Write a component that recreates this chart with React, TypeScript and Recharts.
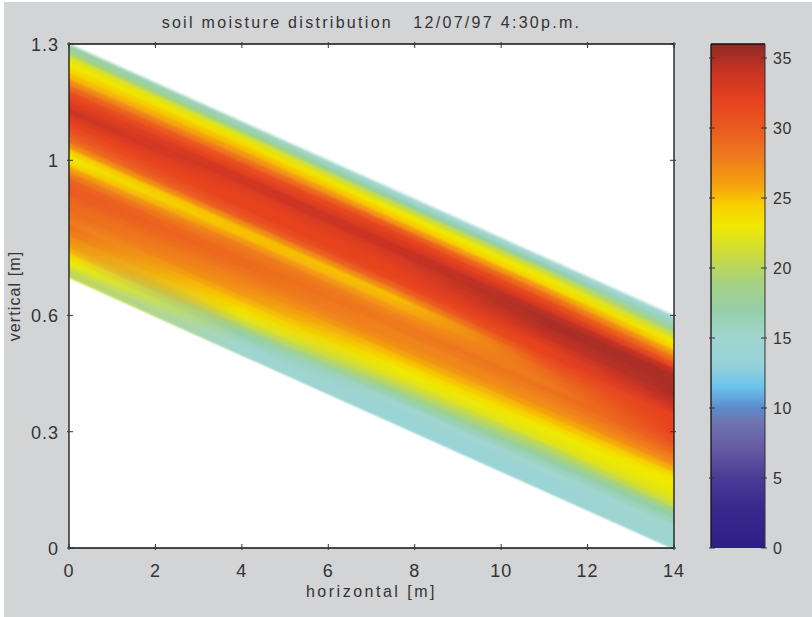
// App.tsx - soil moisture distribution, drawn as stacked colour layers
import { Area, AreaChart, Bar, ComposedChart, Scatter, XAxis, YAxis } from "recharts";

const horizontal = [0, 2, 4, 6, 8, 10, 12, 14];
const upperEdge = [1.3, 1.2, 1.1, 1.0, 0.9, 0.8, 0.7, 0.6];
const lowerEdge = [0.7, 0.6, 0.5, 0.4, 0.3, 0.2, 0.1, 0.0];

const xTicks = [0, 2, 4, 6, 8, 10, 12, 14];
const yTicks = [0, 0.3, 0.6, 1, 1.3];
const barTicks = [0, 5, 10, 15, 20, 25, 30, 35];

// moisture, top of the band to bottom, at five x positions
const cutPositions = [0, 4, 7.5, 11, 14];
const moistureAt0 = [17, 19, 22, 23, 24, 25, 27, 29, 31, 32, 33, 34, 33, 32, 31, 30, 29, 27, 24.5, 23, 24, 26, 28, 29.5, 30, 30, 29.5, 29, 29, 28.5, 28, 28.5, 28, 27, 26.5, 25.5, 24, 23, 21.5, 20];
const moistureAt4 = [16, 18, 22, 23.5, 25, 26.5, 28.5, 31, 32, 33.5, 33.5, 32.5, 32, 32, 32, 31, 30, 27, 25, 25, 26.5, 28, 28.5, 29, 29, 28.5, 28, 27.5, 27, 26.5, 25.5, 24.5, 23.5, 22.5, 21, 19, 17, 16, 15, 15];
const moistureAt7 = [15, 17, 21, 23, 24.5, 26.5, 30, 32, 33, 34, 34, 33, 32.5, 32, 32, 31.5, 29.5, 27, 25, 25.5, 26.5, 27.5, 28, 28, 27.5, 27.5, 27, 26, 25, 24, 23, 22.5, 21.5, 20, 18.5, 16.5, 15, 14.5, 14, 14];
const moistureAt11 = [15, 17, 21, 23, 24, 26.5, 29, 31.5, 33, 34.5, 35, 35, 34.5, 34, 33, 32, 32, 31, 30, 29, 28.5, 28, 28.5, 28, 27.5, 27, 26, 25, 24, 23, 22.5, 22, 20, 19, 17, 16, 15, 14.5, 14, 14];
const moistureAt14 = [15, 16, 18, 21, 23, 24, 26, 28.5, 31, 34, 35, 35, 35, 35, 34.5, 34, 33, 32, 32, 32, 31.5, 31, 30, 29, 28, 27, 25.5, 24, 23, 23, 22.5, 22, 21, 19, 17, 16, 15, 15, 15, 15];
const moistureCuts = [moistureAt0, moistureAt4, moistureAt7, moistureAt11, moistureAt14];

const colorValues = [0, 3, 5, 7, 9, 10, 11.5, 13, 15, 17, 19, 21, 23, 24.5, 26, 28, 30, 32, 34, 36];
const colorHexes = ["#2e1d86", "#3a2a8e", "#4a3c96", "#6458a2", "#6f74b0", "#5b8ccb", "#6cc3ef", "#94d2da", "#a0d5d0", "#95cfa8", "#a6d280", "#cddc3e", "#efe900", "#f8cf00", "#f4a00f", "#ee7a1e", "#ea5a20", "#e6421f", "#c93324", "#8e2b26"];

const layerCount = moistureAt0.length;
const layerIds = moistureAt0.map((_, i) => i);
const OVERLAP = 4; // each layer runs a few levels under the next, so no seams show

const bandRows = horizontal.map((x, r) => {
  const row: Record<string, number | number[]> = { x };
  const level = (k: number) => upperEdge[r] - ((upperEdge[r] - lowerEdge[r]) * k) / layerCount;
  layerIds.forEach((k) => {
    row[`layer${k}`] = [level(Math.min(k + OVERLAP, layerCount)), level(k)];
  });
  return row;
});

const barRows = [{ name: "moisture", level: 36 }];

function hexToRgb(hex: string) {
  return [1, 3, 5].map((i) => parseInt(hex.slice(i, i + 2), 16));
}

function moistureColor(v: number) {
  let i = 0;
  while (i < colorValues.length - 2 && v > colorValues[i + 1]) i++;
  const t = (v - colorValues[i]) / (colorValues[i + 1] - colorValues[i]);
  const a = hexToRgb(colorHexes[i]);
  const b = hexToRgb(colorHexes[i + 1]);
  const c = a.map((n, j) => Math.round(n + (b[j] - n) * t));
  return `rgb(${c[0]},${c[1]},${c[2]})`;
}

const INK = "#333";
const TICK = 6;
const FONT = "'Liberation Sans', Arial, sans-serif";

// MATLAB style ticks point into the plot
function BottomTick({ x, y, payload }: any) {
  return (
    <g>
      <line x1={x} x2={x} y1={y} y2={y - TICK} stroke={INK} />
      <text x={x} y={y + 27} textAnchor="middle" fontSize={18} letterSpacing={1} fill={INK} fontFamily={FONT}>{payload.value}</text>
    </g>
  );
}
function TopTick({ x, y }: any) {
  return <line x1={x} x2={x} y1={y} y2={y + TICK} stroke={INK} />;
}
function LeftTick({ x, y, payload }: any) {
  return (
    <g>
      <line x1={x} x2={x + TICK} y1={y} y2={y} stroke={INK} />
      <text x={x - 8} y={y + 7} textAnchor="end" fontSize={18} letterSpacing={1} fill={INK} fontFamily={FONT}>{payload.value}</text>
    </g>
  );
}
function RightTick({ x, y }: any) {
  return <line x1={x} x2={x - TICK} y1={y} y2={y} stroke={INK} />;
}
function BarLeftTick({ x, y }: any) {
  return <line x1={x} x2={x + TICK} y1={y} y2={y} stroke={INK} />;
}
function BarRightTick({ x, y, payload }: any) {
  return (
    <g>
      <line x1={x} x2={x - TICK} y1={y} y2={y} stroke={INK} />
      <text x={x + 6} y={y + 6} textAnchor="start" fontSize={16} letterSpacing={0.5} fill={INK} fontFamily={FONT}>{payload.value}</text>
    </g>
  );
}

const axisLine = { stroke: "#111", strokeWidth: 1.3 };

export default function App() {
  return (
    <div style={{ position: "absolute", left: 0, top: 0, width: 812, height: 617, background: "#fff", overflow: "hidden" }}>
      <div style={{ position: "absolute", left: 4, top: 2, width: 808, height: 615, background: "#d3d4d6" }} />
      <div style={{ position: "absolute", left: 69, top: 44, width: 605, height: 504, background: "#fff" }} />
      <div style={{ position: "absolute", left: 0, top: 0 }}>
        <AreaChart width={812} height={617} data={bandRows} margin={{ top: 14, right: 128, bottom: 29, left: 9 }}>
          <defs>
            <filter id="soft" x="-2%" y="-5%" width="104%" height="110%">
              <feGaussianBlur stdDeviation="0 1.6" />
            </filter>
            {layerIds.map((k) => (
              <linearGradient key={k} id={`band${k}`} x1="0" x2="1" y1="0" y2="0">
                {cutPositions.map((pos, c) => (
                  <stop key={pos} offset={pos / 14} stopColor={moistureColor(moistureCuts[c][k])} />
                ))}
              </linearGradient>
            ))}
          </defs>
          <XAxis xAxisId="bottom" dataKey="x" type="number" domain={[0, 14]} ticks={xTicks} height={40} tickSize={0} tickLine={false} axisLine={axisLine} tick={<BottomTick />} interval={0}
            label={{ value: "horizontal [m]", position: "insideBottom", offset: -9, fontSize: 16, letterSpacing: 2.5, fill: INK, fontFamily: FONT }} />
          <XAxis xAxisId="top" orientation="top" dataKey="x" type="number" domain={[0, 14]} ticks={xTicks} height={30} tickSize={0} tickLine={false} axisLine={axisLine} tick={<TopTick />} interval={0}
            label={{ value: "soil moisture distribution \u00a0 12/07/97 4:30p.m.", position: "insideTop", offset: 3, fontSize: 16, letterSpacing: 2.3, fill: INK, fontFamily: FONT }} />
          <YAxis yAxisId="left" type="number" domain={[0, 1.3]} ticks={yTicks} width={60} tickSize={0} tickLine={false} axisLine={axisLine} tick={<LeftTick />} interval={0}
            label={{ value: "vertical [m]", angle: -90, position: "insideLeft", offset: 5, fontSize: 16, letterSpacing: 1.1, fill: INK, fontFamily: FONT, textAnchor: "middle" }} />
          <YAxis yAxisId="right" orientation="right" type="number" domain={[0, 1.3]} ticks={yTicks} width={10} tickSize={0} tickLine={false} axisLine={axisLine} tick={<RightTick />} interval={0} />
          <Area xAxisId="top" yAxisId="right" type="linear" dataKey="layer0" stroke="none" fill="none" dot={false} activeDot={false} isAnimationActive={false} />
          {layerIds.map((k) => (
            <Area key={k} xAxisId="bottom" yAxisId="left" type="linear" dataKey={`layer${k}`} stroke="none" fill={`url(#band${k})`} fillOpacity={1} filter="url(#soft)" dot={false} activeDot={false} isAnimationActive={false} />
          ))}
        </AreaChart>
      </div>
      <div style={{ position: "absolute", left: 0, top: 0 }}>
        <ComposedChart width={812} height={617} data={barRows} barCategoryGap={0} margin={{ top: 34, right: 17, bottom: 59, left: 701 }}>
          <defs>
            <linearGradient id="colorbar" x1="0" x2="0" y1="1" y2="0">
              {colorValues.map((v, i) => (
                <stop key={v} offset={v / 36} stopColor={colorHexes[i]} />
              ))}
            </linearGradient>
          </defs>
          <XAxis xAxisId="cat" dataKey="name" height={10} tick={false} tickLine={false} axisLine={false} />
          <XAxis xAxisId="capTop" orientation="top" dataKey="name" height={10} tick={false} tickLine={false} axisLine={axisLine} />
          <YAxis yAxisId="barLeft" type="number" domain={[0, 36]} ticks={barTicks} width={10} tickSize={0} tickLine={false} axisLine={axisLine} tick={<BarLeftTick />} interval={0} />
          <YAxis yAxisId="barRight" orientation="right" type="number" domain={[0, 36]} ticks={barTicks} width={30} tickSize={0} tickLine={false} axisLine={{ stroke: "#333", strokeWidth: 1 }} tick={<BarRightTick />} interval={0} />
          <Bar xAxisId="cat" yAxisId="barLeft" dataKey="level" fill="url(#colorbar)" isAnimationActive={false} />
          <Scatter xAxisId="capTop" yAxisId="barRight" dataKey="level" shape={() => <g />} isAnimationActive={false} />
        </ComposedChart>
      </div>
    </div>
  );
}
